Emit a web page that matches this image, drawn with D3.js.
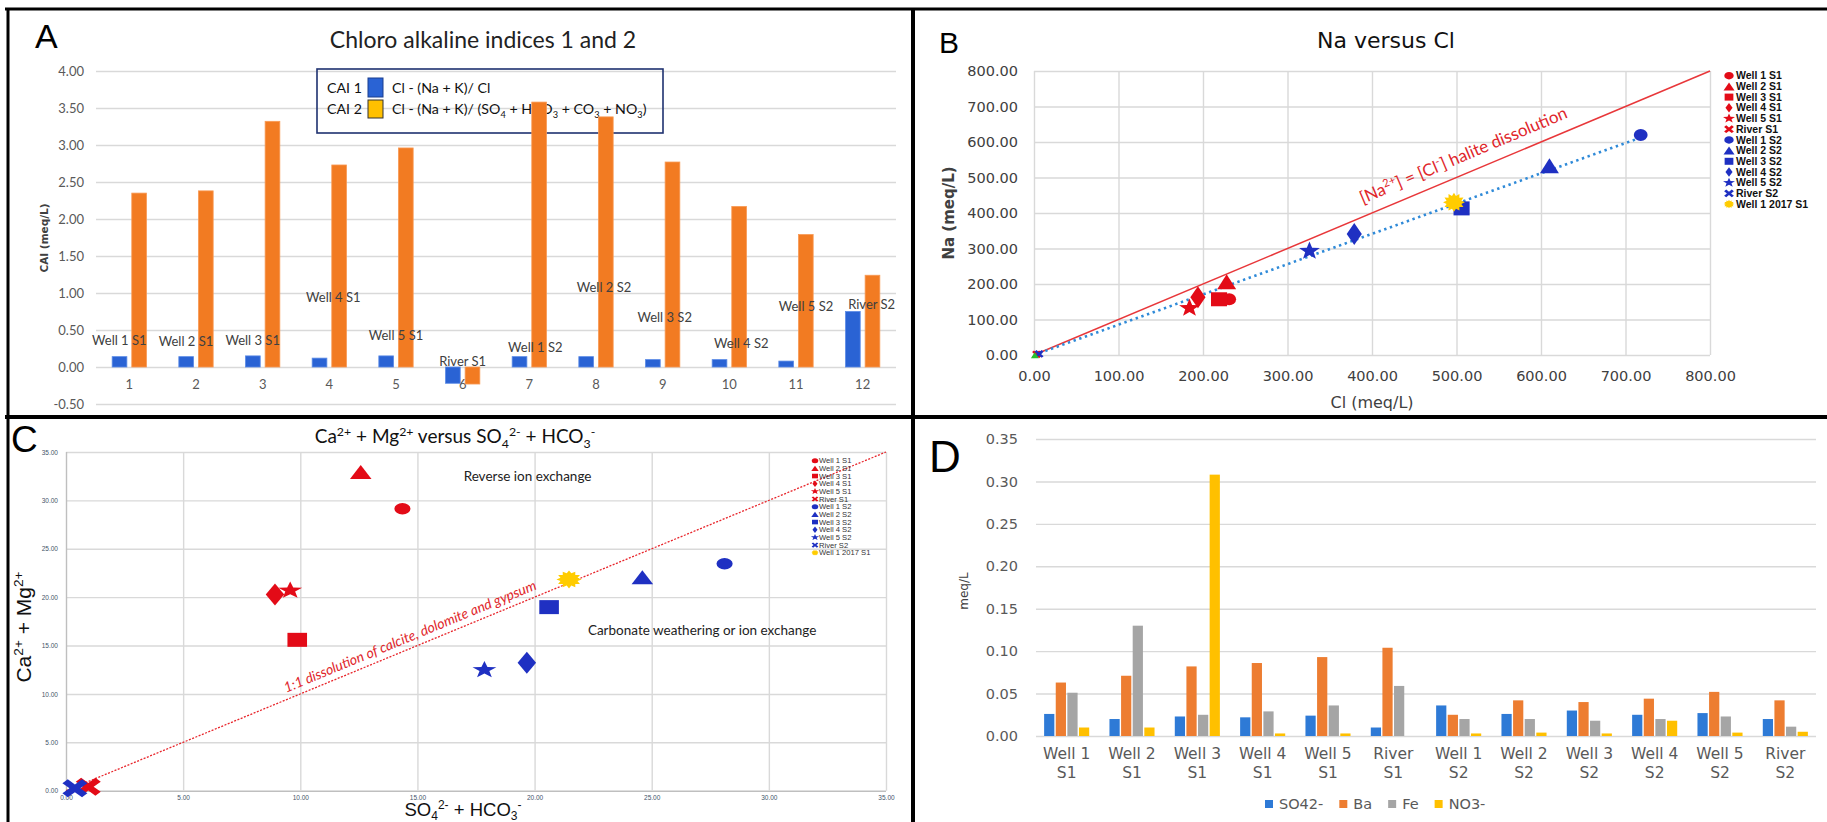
<!DOCTYPE html>
<html>
<head>
<meta charset="utf-8">
<script src="https://cdn.jsdelivr.net/npm/d3@7"></script>
<style>
  body { margin: 0; background: #fff; }
  svg { display: block; }
</style>
</head>
<body>
<div id="fig"></div>
<script>
// ---------- data ----------
// A: chloro alkaline indices
const caiSamples = ['1', '2', '3', '4', '5', '6', '7', '8', '9', '10', '11', '12'];
const caiNames = ['Well 1 S1', 'Well 2 S1', 'Well 3 S1', 'Well 4 S1', 'Well 5 S1', 'River S1',
    'Well 1 S2', 'Well 2 S2', 'Well 3 S2', 'Well 4 S2', 'Well 5 S2', 'River S2'];
const cai1 = [0.14, 0.14, 0.15, 0.12, 0.15, -0.22, 0.14, 0.14, 0.10, 0.10, 0.08, 0.75];
const cai2 = [2.35, 2.38, 3.32, 2.73, 2.96, -0.23, 3.58, 3.38, 2.77, 2.17, 1.79, 1.24];
// where the sample names sit (meq/L) and how far they are nudged sideways (px)
const caiLabelAt = [0.355, 0.34, 0.36, 0.94, 0.43, 0.07, 0.27, 1.07, 0.67, 0.32, 0.82, 0.85];
const caiLabelNudge = [-10, -10, -10, 4, 0, 0, 6, 8, 2, 12, 10, 9];
const caiTicks = [-0.5, 0, 0.5, 1, 1.5, 2, 2.5, 3, 3.5, 4];

// B and C: samples
const sampleNames = ['Well 1 S1', 'Well 2 S1', 'Well 3 S1', 'Well 4 S1', 'Well 5 S1', 'River S1',
    'Well 1 S2', 'Well 2 S2', 'Well 3 S2', 'Well 4 S2', 'Well 5 S2', 'River S2', 'Well 1 2017 S1'];
const sampleShapes = ['circle', 'triangle', 'square', 'diamond', 'star', 'cross',
    'circle', 'triangle', 'square', 'diamond', 'star', 'cross', 'sun'];
const sampleCampaign = ['S1', 'S1', 'S1', 'S1', 'S1', 'S1', 'S2', 'S2', 'S2', 'S2', 'S2', 'S2', '2017'];

// B: [Cl, Na] meq/L
const naCl = [[231, 157], [228, 206], [219, 157], [194, 163], [184, 132], [3, 2],
    [718, 620], [610, 533], [506, 413], [379, 341], [326, 293], [6, 3], [497, 430]];
const naClTicks = [0, 100, 200, 300, 400, 500, 600, 700, 800];

// C: [SO4 + HCO3, Ca + Mg]
const caMg = [[14.36, 29.14], [12.58, 32.93], [9.87, 15.59], [8.92, 20.28], [9.57, 20.69], [0.95, 0.41],
    [28.11, 23.45], [24.60, 22.07], [20.62, 18.97], [19.67, 13.21], [17.86, 12.48], [0.38, 0.25], [21.47, 21.83]];
const caMgTicks = [0, 5, 10, 15, 20, 25, 30, 35];

// D: trace ions, meq/L
const ionSamples = ['Well 1 S1', 'Well 2 S1', 'Well 3 S1', 'Well 4 S1', 'Well 5 S1', 'River S1',
    'Well 1 S2', 'Well 2 S2', 'Well 3 S2', 'Well 4 S2', 'Well 5 S2', 'River S2'];
const ionSeries = ['SO42-', 'Ba', 'Fe', 'NO3-'];
const so4 = [0.026, 0.020, 0.023, 0.022, 0.024, 0.010, 0.036, 0.026, 0.030, 0.025, 0.027, 0.020];
const ba  = [0.063, 0.071, 0.082, 0.086, 0.093, 0.104, 0.025, 0.042, 0.040, 0.044, 0.052, 0.042];
const fe  = [0.051, 0.130, 0.025, 0.029, 0.036, 0.059, 0.020, 0.020, 0.018, 0.020, 0.023, 0.011];
const no3 = [0.010, 0.010, 0.308, 0.003, 0.003, 0.000, 0.003, 0.004, 0.003, 0.018, 0.004, 0.005];
const ionTicks = [0, 0.05, 0.10, 0.15, 0.20, 0.25, 0.30, 0.35];

// ---------- styles ----------
const gridColor = '#d9d9d9';
const greyText = '#595959';
const calibri = 'Lato, "Open Sans", sans-serif';
const wide = '"DejaVu Sans", Verdana, sans-serif';
const arial = '"Liberation Sans", Arial, sans-serif';
const campaignColor = {S1: '#e30b17', S2: '#1f30c2', '2017': '#ffcc00'};
const ionColor = ['#2e7ad6', '#ed7d31', '#a5a5a5', '#ffc000'];
const fmt2 = v => d3.format('.2f')(v).replace('−', '-');

const svg = d3.select('#fig').append('svg').attr('width', 1827).attr('height', 822);

// ---------- helpers ----------
function rich(text, parts, size, subShift = 0.28) {
    let shift = 0;
    parts.forEach(([s, m]) => {
        const target = m === 'sup' ? -0.38 * size : m === 'sub' ? subShift * size : 0;
        text.append('tspan')
            .attr('dy', target - shift)
            .attr('font-size', m ? size * 0.65 : size)
            .text(s);
        shift = target;
    });
    return text;
}

function starPath(n, outer, inner) {
    const pts = d3.range(n * 2).map(i => [i * Math.PI / n, i % 2 ? inner : outer]);
    return d3.lineRadial().curve(d3.curveLinearClosed)(pts);
}

function shapePath(type, h) {
    const r = h / 2;
    if (type === 'circle') {
        return d3.arc()({innerRadius: 0, outerRadius: r, startAngle: 0, endAngle: 2 * Math.PI});
    }
    if (type === 'square') return `M${-r},${-r}H${r}V${r}H${-r}Z`;
    if (type === 'triangle') return `M0,${-r}L${h * 0.55},${r}L${-h * 0.55},${r}Z`;
    if (type === 'diamond') return `M0,${-r}L${r * 0.6},0L0,${r}L${-r * 0.6},0Z`;
    if (type === 'star') return starPath(5, h * 0.56, h * 0.23);
    if (type === 'sun') return starPath(12, r, r * 0.7);
    // cross: a plus rotated 45 degrees
    const a = h * 0.62, t = h * 0.17, c = Math.SQRT1_2;
    const plus = [[-t, -a], [t, -a], [t, -t], [a, -t], [a, t], [t, t], [t, a], [-t, a], [-t, t], [-a, t], [-a, -t], [-t, -t]];
    return d3.line().curve(d3.curveLinearClosed)(plus.map(([x, y]) => [(x - y) * c, (x + y) * c]));
}

function marker(g, type, x, y, h, sx, color) {
    g.append('path')
        .attr('d', shapePath(type, h))
        .attr('transform', `translate(${x},${y}) scale(${sx},1)`)
        .attr('fill', color);
}

function styleAxis(g, font, size, color) {
    g.select('.domain').remove();
    g.selectAll('line').attr('stroke', gridColor).attr('stroke-width', 1.4);
    g.selectAll('text').attr('font-family', font).attr('font-size', size).attr('fill', color);
}

// ---------- frame ----------
const frame = svg.append('g').attr('stroke', '#000');
frame.append('line').attr('x1', 5).attr('x2', 1827).attr('y1', 9).attr('y2', 9).attr('stroke-width', 3);
frame.append('line').attr('x1', 8).attr('x2', 8).attr('y1', 8).attr('y2', 822).attr('stroke-width', 3);
frame.append('line').attr('x1', 913).attr('x2', 913).attr('y1', 8).attr('y2', 822).attr('stroke-width', 4);
frame.append('line').attr('x1', 5).attr('x2', 1827).attr('y1', 417).attr('y2', 417).attr('stroke-width', 4);

// ---------- A ----------
const pA = svg.append('g');
const aX = d3.scaleBand().domain(caiSamples).range([96, 896]).paddingInner(0.485).paddingOuter(0.2425);
const aSub = d3.scaleBand().domain(['cai1', 'cai2']).range([0, aX.bandwidth()]).paddingInner(0.25);
const aY = d3.scaleLinear().domain([-0.5, 4]).range([404, 71]);

const aAxisY = pA.append('g').attr('transform', 'translate(96,0)')
    .call(d3.axisLeft(aY).tickValues(caiTicks).tickFormat(fmt2).tickSize(-800).tickPadding(12));
styleAxis(aAxisY, calibri, 13, greyText);

const aAxisX = pA.append('g').attr('transform', `translate(0,${aY(0)})`)
    .call(d3.axisBottom(aX).tickSize(0).tickPadding(13));
styleAxis(aAxisX, calibri, 13, greyText);

pA.append('text').attr('x', 35).attr('y', 48)
    .attr('font-family', arial).attr('font-size', 34).text('A');
pA.append('text').attr('x', 483).attr('y', 48).attr('text-anchor', 'middle')
    .attr('font-family', calibri).attr('font-size', 23).attr('fill', '#222')
    .text('Chloro alkaline indices 1 and 2');
pA.append('text').attr('transform', 'translate(48,238) rotate(-90)').attr('text-anchor', 'middle')
    .attr('font-family', wide).attr('font-weight', 'bold').attr('font-size', 10.5).attr('fill', '#404040')
    .text('CAI (meq/L)');

// legend box (no fill: the grid shows through)
const aLeg = pA.append('g');
aLeg.append('rect').attr('x', 317).attr('y', 69).attr('width', 346).attr('height', 64)
    .attr('fill', 'none').attr('stroke', '#1f3170').attr('stroke-width', 1.6);
aLeg.append('rect').attr('x', 368).attr('y', 78).attr('width', 15).attr('height', 19)
    .attr('fill', '#2a63d4').attr('stroke', '#1b3f8f');
aLeg.append('rect').attr('x', 368).attr('y', 100).attr('width', 15).attr('height', 18)
    .attr('fill', '#ffc000').attr('stroke', '#333');
const legFont = 14.2;
[['CAI 1', 93], ['CAI 2', 114]].forEach(([t, y]) => {
    aLeg.append('text').attr('x', 327).attr('y', y).attr('font-family', calibri)
        .attr('font-size', legFont).attr('fill', '#111').text(t);
});
aLeg.append('text').attr('x', 392).attr('y', 93).attr('font-family', calibri)
    .attr('font-size', legFont).attr('fill', '#111').text('Cl - (Na + K)/ Cl');
rich(aLeg.append('text').attr('x', 392).attr('y', 114).attr('font-family', calibri).attr('fill', '#111'),
    [['Cl - (Na + K)/ (SO', ''], ['4', 'sub'], [' + HCO', ''], ['3', 'sub'], [' + CO', ''], ['3', 'sub'],
     [' + NO', ''], ['3', 'sub'], [')', '']], legFont);

const aBars = caiSamples.flatMap((c, i) => [{c, k: 'cai1', v: cai1[i]}, {c, k: 'cai2', v: cai2[i]}]);
pA.selectAll('rect.bar').data(aBars).join('rect')
    .attr('class', 'bar')
    .attr('x', d => aX(d.c) + aSub(d.k))
    .attr('width', aSub.bandwidth())
    .attr('y', d => aY(Math.max(0, d.v)))
    .attr('height', d => Math.abs(aY(d.v) - aY(0)))
    .attr('fill', d => d.k === 'cai1' ? '#2a63d4' : '#f27b22')
    .attr('stroke', d => d.k === 'cai1' ? '#5b8be6' : '#f89a55')
    .attr('stroke-width', 0.8);

pA.selectAll('text.name').data(caiSamples).join('text')
    .attr('class', 'name')
    .attr('x', (c, i) => aX(c) + aX.bandwidth() / 2 + caiLabelNudge[i])
    .attr('y', (c, i) => aY(caiLabelAt[i]))
    .attr('dy', '0.35em').attr('text-anchor', 'middle')
    .attr('font-family', calibri).attr('font-size', 13).attr('fill', '#404040')
    .text((c, i) => caiNames[i]);

// ---------- B ----------
const pB = svg.append('g');
const bX = d3.scaleLinear().domain([0, 800]).range([1034, 1710]);
const bY = d3.scaleLinear().domain([0, 800]).range([355, 71]);

const bAxisY = pB.append('g').attr('transform', 'translate(1034,0)')
    .call(d3.axisLeft(bY).tickValues(naClTicks).tickFormat(fmt2).tickSize(-(1710 - 1034)).tickPadding(16));
styleAxis(bAxisY, wide, 14.5, '#404040');
const bAxisX = pB.append('g').attr('transform', 'translate(0,355)')
    .call(d3.axisBottom(bX).tickValues(naClTicks).tickFormat(fmt2).tickSize(-(355 - 71)).tickPadding(16));
styleAxis(bAxisX, wide, 14.5, '#404040');

pB.append('text').attr('x', 939).attr('y', 53).attr('font-family', arial).attr('font-size', 30).text('B');
pB.append('text').attr('x', 1386).attr('y', 48).attr('text-anchor', 'middle')
    .attr('font-family', wide).attr('font-size', 22).attr('fill', '#111').text('Na versus Cl');
pB.append('text').attr('x', 1372).attr('y', 408).attr('text-anchor', 'middle')
    .attr('font-family', wide).attr('font-size', 16).attr('fill', '#404040').text('Cl (meq/L)');
pB.append('text').attr('transform', 'translate(954,213) rotate(-90)').attr('text-anchor', 'middle')
    .attr('font-family', wide).attr('font-weight', 'bold').attr('font-size', 15).attr('fill', '#404040')
    .text('Na (meq/L)');

// 1:1 line and the fitted trend (least squares through the origin)
pB.append('line').attr('x1', bX(0)).attr('y1', bY(0)).attr('x2', bX(800)).attr('y2', bY(800))
    .attr('stroke', '#e8373a').attr('stroke-width', 1.5);
const slope = d3.sum(naCl, d => d[0] * d[1]) / d3.sum(naCl, d => d[0] * d[0]);
const maxCl = d3.max(naCl, d => d[0]);
pB.append('line').attr('x1', bX(0)).attr('y1', bY(0)).attr('x2', bX(maxCl)).attr('y2', bY(slope * maxCl))
    .attr('stroke', '#2f8ad8').attr('stroke-width', 2.6).attr('stroke-dasharray', '2.4,3.6');

const bAngle = Math.atan2(bY(800) - bY(0), bX(800) - bX(0)) * 180 / Math.PI;
rich(pB.append('text')
        .attr('transform', `translate(${bX(389)},${bY(389) - 13}) rotate(${bAngle})`)
        .attr('font-family', calibri).attr('fill', '#e0262b'),
    [['[Na', ''], ['2+', 'sup'], ['] = [Cl', ''], ['-', 'sup'], ['] halite dissolution', '']], 17);

const bSize = {circle: 12, square: 14, triangle: 15, diamond: 22, star: 17, cross: 7, sun: 19};
naCl.forEach((d, i) => {
    marker(pB, sampleShapes[i], bX(d[0]), bY(d[1]), bSize[sampleShapes[i]], 1.15, campaignColor[sampleCampaign[i]]);
});
// small green mark sitting at the origin
marker(pB, 'triangle', bX(1), bY(-1), 6, 1.2, '#26c22e');

const bLegSize = {circle: 7.5, square: 7, triangle: 8, diamond: 9.5, star: 9, cross: 7, sun: 8.5};
sampleNames.forEach((name, i) => {
    const y = 75.7 + i * 10.7;
    marker(pB, sampleShapes[i], 1729, y, bLegSize[sampleShapes[i]], 1.25, campaignColor[sampleCampaign[i]]);
    pB.append('text').attr('x', 1736).attr('y', y).attr('dy', '0.35em')
        .attr('font-family', arial).attr('font-weight', 'bold').attr('font-size', 10.5).attr('fill', '#111')
        .text(name);
});

// ---------- C ----------
const pC = svg.append('g');
const cX = d3.scaleLinear().domain([0, 35]).range([66, 886]);
const cY = d3.scaleLinear().domain([0, 35]).range([790.7, 452]);

const cAxisY = pC.append('g').attr('transform', 'translate(66,0)')
    .call(d3.axisLeft(cY).tickValues(caMgTicks).tickFormat(fmt2).tickSize(-(886 - 66)).tickPadding(8));
styleAxis(cAxisY, arial, 6.5, '#44546a');
const cAxisX = pC.append('g').attr('transform', 'translate(0,790.7)')
    .call(d3.axisBottom(cX).tickValues(caMgTicks).tickFormat(fmt2).tickSize(-(790.7 - 452)).tickPadding(5));
styleAxis(cAxisX, arial, 6.5, '#44546a');
cAxisY.selectAll('line').filter(d => d === 0).attr('stroke', '#bfbfbf');
cAxisX.selectAll('line').filter(d => d === 0).attr('stroke', '#bfbfbf');

pC.append('text').attr('x', 11).attr('y', 452).attr('font-family', arial).attr('font-size', 37).text('C');
rich(pC.append('text').attr('x', 455).attr('y', 443).attr('text-anchor', 'middle')
        .attr('font-family', calibri).attr('fill', '#111'),
    [['Ca', ''], ['2+', 'sup'], [' + Mg', ''], ['2+', 'sup'], [' versus SO', ''], ['4', 'sub'], ['2-', 'sup'],
     [' + HCO', ''], ['3', 'sub'], ['-', 'sup']], 19);
rich(pC.append('text').attr('x', 463).attr('y', 816).attr('text-anchor', 'middle')
        .attr('font-family', arial).attr('fill', '#111'),
    [['SO', ''], ['4', 'sub'], ['2-', 'sup'], [' + HCO', ''], ['3', 'sub'], ['-', 'sup']], 18.5, 0.2);
rich(pC.append('text').attr('transform', 'translate(31,627) rotate(-90)').attr('text-anchor', 'middle')
        .attr('font-family', arial).attr('fill', '#111'),
    [['Ca', ''], ['2+', 'sup'], [' + Mg', ''], ['2+', 'sup']], 21);

pC.append('line').attr('x1', cX(0)).attr('y1', cY(0)).attr('x2', cX(35)).attr('y2', cY(35))
    .attr('stroke', '#e8262c').attr('stroke-width', 1.3).attr('stroke-dasharray', '2,1.5');
const cAngle = Math.atan2(cY(35) - cY(0), cX(35) - cX(0)) * 180 / Math.PI;
pC.append('text')
    .attr('transform', `translate(${cX(9.4)},${cY(9.4) - 7}) rotate(${cAngle})`)
    .attr('font-family', calibri).attr('font-style', 'italic').attr('font-size', 14).attr('fill', '#e0262b')
    .text('1:1 dissolution of calcite, dolomite and gypsum');

pC.append('text').attr('x', cX(19.7)).attr('y', cY(32.5)).attr('dy', '0.35em').attr('text-anchor', 'middle')
    .attr('font-family', calibri).attr('font-size', 13.5).attr('fill', '#222').text('Reverse ion exchange');
pC.append('text').attr('x', cX(27.15)).attr('y', cY(16.6)).attr('dy', '0.35em').attr('text-anchor', 'middle')
    .attr('font-family', calibri).attr('font-size', 13.5).attr('fill', '#222').text('Carbonate weathering or ion exchange');

const cSize = {circle: 11.5, square: 14, triangle: 14, diamond: 22, star: 16, cross: 16, sun: 18};
caMg.forEach((d, i) => {
    marker(pC, sampleShapes[i], cX(d[0]), cY(d[1]), cSize[sampleShapes[i]], 1.4, campaignColor[sampleCampaign[i]]);
});

const cLegSize = {circle: 5, square: 4.6, triangle: 5.2, diamond: 6.5, star: 6, cross: 4.6, sun: 5.6};
sampleNames.forEach((name, i) => {
    const y = 460.7 + i * 7.67;
    marker(pC, sampleShapes[i], 815, y, cLegSize[sampleShapes[i]], 1.3, campaignColor[sampleCampaign[i]]);
    pC.append('text').attr('x', 819).attr('y', y).attr('dy', '0.35em')
        .attr('font-family', arial).attr('font-size', 7.6).attr('fill', '#333')
        .text(name);
});

// ---------- D ----------
const pD = svg.append('g');
const dX = d3.scaleBand().domain(ionSamples).range([1034, 1818]).paddingInner(0.31).paddingOuter(0.155);
const dSub = d3.scaleBand().domain(ionSeries).range([0, dX.bandwidth()]).paddingInner(0.12);
const dY = d3.scaleLinear().domain([0, 0.35]).range([736, 439]);

const dAxisY = pD.append('g').attr('transform', 'translate(1036,0)')
    .call(d3.axisLeft(dY).tickValues(ionTicks).tickFormat(fmt2).tickSize(-(1816 - 1036)).tickPadding(18));
styleAxis(dAxisY, wide, 14.5, greyText);

const dAxisX = pD.append('g').attr('transform', 'translate(0,736)')
    .call(d3.axisBottom(dX).tickSize(0).tickPadding(12).tickFormat(''));
styleAxis(dAxisX, wide, 15.5, greyText);
dAxisX.selectAll('.tick text').each(function (d) {
    const parts = d.split(' ');
    const t = d3.select(this).attr('dy', null);
    t.append('tspan').attr('x', 0).attr('dy', '0.71em').text(parts.slice(0, -1).join(' '));
    t.append('tspan').attr('x', 0).attr('dy', '1.2em').text(parts[parts.length - 1]);
});

const ionValues = [so4, ba, fe, no3];
const dBars = ionSamples.flatMap((s, i) => ionSeries.map((k, j) => ({s, k, j, v: ionValues[j][i]})));
pD.selectAll('rect.bar').data(dBars).join('rect')
    .attr('class', 'bar')
    .attr('x', d => dX(d.s) + dSub(d.k))
    .attr('width', dSub.bandwidth())
    .attr('y', d => dY(d.v))
    .attr('height', d => dY(0) - dY(d.v))
    .attr('fill', d => ionColor[d.j]);

pD.append('text').attr('x', 929).attr('y', 472).attr('font-family', arial).attr('font-size', 44).text('D');
pD.append('text').attr('transform', 'translate(968,591) rotate(-90)').attr('text-anchor', 'middle')
    .attr('font-family', wide).attr('font-size', 12).attr('fill', '#404040').text('meq/L');

let lx = 1265;
ionSeries.forEach((k, j) => {
    pD.append('rect').attr('x', lx).attr('y', 800).attr('width', 8).attr('height', 8).attr('fill', ionColor[j]);
    const t = pD.append('text').attr('x', lx + 14).attr('y', 804).attr('dy', '0.36em')
        .attr('font-family', wide).attr('font-size', 14.5).attr('fill', greyText).text(k);
    lx += 14 + t.node().getComputedTextLength() + 16;
});
</script>
</body>
</html>
